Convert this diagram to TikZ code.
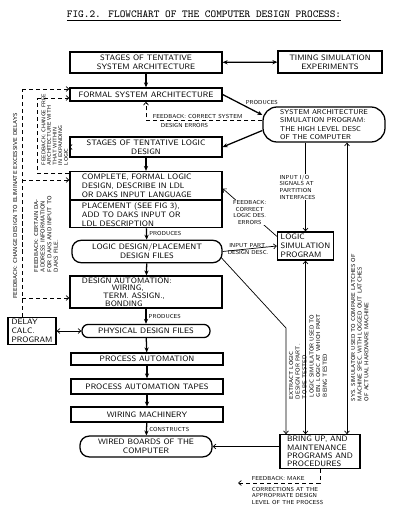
\documentclass[tikz,border=0pt]{standalone}
\usepackage{tikz}
\usetikzlibrary{arrows.meta,positioning,calc}
\newcommand{\handfont}{\fontsize{5.6}{6.4}\selectfont\sffamily}
\newcommand{\notefont}{\fontsize{4.1}{4.7}\selectfont\sffamily}
\tikzset{
  flowbox/.style={draw,line width=0.9pt,align=center,font=\handfont,inner sep=1pt,minimum width=#1},
  flowbox/.default=3.8cm,
  roundbox/.style={flowbox=#1,rounded corners=6.5pt},
  roundbox/.default=3.2cm,
  arr/.style={-{Stealth[length=3.5pt,width=3pt]},line width=0.9pt},
  darr/.style={{Stealth[length=3.5pt,width=3pt]}-{Stealth[length=3.5pt,width=3pt]},line width=0.9pt},
  tarr/.style={-{Straight Barb[length=2pt,width=3.5pt]},line width=0.5pt},
  tdarr/.style={{Straight Barb[length=2pt,width=3.5pt]}-{Straight Barb[length=2pt,width=3.5pt]},line width=0.5pt},
  fbline/.style={line width=0.5pt,dash pattern=on 3pt off 2pt},
  fb/.style={tarr,fbline},
  note/.style={font=\notefont,align=left,inner sep=0.5pt},
  vnote/.style={note,rotate=90,anchor=north west},
}

\begin{document}
\begin{tikzpicture}[x=0.025cm,y=-0.025cm]
  \useasboundingbox (0,0) rectangle (400,515);
  \node[font=\fontsize{7.6}{8}\selectfont\ttfamily] (title) at (204,16) {\underline{FIG.2. FLOWCHART OF THE COMPUTER DESIGN PROCESS:}};
  % main column
  \node[flowbox,minimum height=0.52cm] (stagesys) at (146,62.5) {STAGES OF TENTATIVE\\SYSTEM ARCHITECTURE};
  \node[flowbox=2.6cm,minimum height=0.55cm] (timing) at (330,62) {TIMING SIMULATION\\EXPERIMENTS};
  \node[flowbox,minimum height=0.33cm] (formal) at (146,94.5) {FORMAL SYSTEM ARCHITECTURE};
  \node[roundbox=3.05cm,minimum height=0.875cm,rounded corners=10pt,align=left,font=\fontsize{5.0}{5.9}\selectfont\sffamily] (sysarch) at (324,124.5)
    {SYSTEM ARCHITECTURE\\SIMULATION PROGRAM:\\THE HIGH LEVEL DESC\\OF THE COMPUTER};
  \node[flowbox,minimum height=0.5cm] (stagelog) at (146,147) {STAGES OF TENTATIVE LOGIC\\DESIGN};
  \node[flowbox,minimum height=0.7cm,text width=3.2cm,inner xsep=0.3cm,align=left] (complete) at (146,185.5)
    {COMPLETE, FORMAL LOGIC\\DESIGN, DESCRIBE IN LDL\\OR DAKS INPUT LANGUAGE};
  \node[flowbox,minimum height=0.65cm,text width=3.2cm,inner xsep=0.3cm,align=left,anchor=north] (placement) at (complete.south)
    {PLACEMENT (SEE FIG 3),\\ADD TO DAKS INPUT OR\\LDL DESCRIPTION};
  \node[roundbox=3.75cm,minimum height=0.56cm] (ldfiles) at (147,251.5) {LOGIC DESIGN/PLACEMENT\\DESIGN FILES};
  \node[flowbox,minimum height=0.8cm,text width=3.2cm,inner xsep=0.3cm,align=left,font=\fontsize{5.6}{5.4}\selectfont\sffamily] (desaut) at (146,292)
    {DESIGN AUTOMATION:\\\hspace*{0.75cm}WIRING,\\\hspace*{0.53cm}TERM. ASSIGN.,\\\hspace*{0.58cm}BONDING};
  \node[roundbox=3.2cm,minimum height=0.33cm,rounded corners=4.5pt] (physfiles) at (146,331) {PHYSICAL DESIGN FILES};
  \node[flowbox=1.2cm,minimum height=0.67cm,align=left] (delay) at (32,331) {DELAY\\CALC.\\PROGRAM};
  \node[flowbox,minimum height=0.3cm] (procaut) at (147,359) {PROCESS AUTOMATION};
  \node[flowbox,minimum height=0.38cm] (tapes) at (147,386.5) {PROCESS AUTOMATION TAPES};
  \node[flowbox,minimum height=0.37cm] (wiremach) at (147,414.5) {WIRING MACHINERY};
  \node[roundbox=3.3cm,minimum height=0.52cm] (boards) at (146,446.5) {WIRED BOARDS OF THE\\COMPUTER};
  \node[flowbox=2.0cm,minimum height=0.83cm,align=left,font=\fontsize{5.6}{5.9}\selectfont\sffamily] (bringup) at (320,451.5)
    {BRING UP, AND\\MAINTENANCE\\PROGRAMS AND\\PROCEDURES};
  \node[flowbox=1.4cm,minimum height=0.7cm,align=left] (logsim) at (305.5,246) {LOGIC\\SIMULATION\\PROGRAM};
  % main flow
  \draw[darr] (stagesys) -- (timing);
  \draw[arr] (stagesys) -- (formal);
  \draw[arr] (formal.east) -- node[note,pos=0.55,above right=0pt] {PRODUCES} ($(sysarch.west)+(0,-9.5)$);
  \draw[arr] ($(sysarch.west)+(0,6)$) -- (stagelog.east);
  \draw[arr] (stagelog) -- (complete);
  \draw[arr] (placement) -- node[note,right=1pt] {PRODUCES} (ldfiles);
  \draw[arr] (ldfiles) -- (desaut);
  \draw[arr] (desaut) -- node[note,right=1pt] {PRODUCES} (physfiles);
  \draw[tdarr] (delay) -- (physfiles);
  \draw[arr] (physfiles) -- (procaut);
  \draw[arr] (procaut) -- (tapes);
  \draw[arr] (tapes) -- (wiremach);
  \draw[arr] (wiremach) -- node[note,right=1pt] {CONSTRUCTS} (boards);
  \draw[tarr] (bringup.west |- boards.east) -- (boards.east);
  % system design feedback
  \draw[fb] ($(sysarch.west)+(0,-4)$) -| (formal.south);
  \node[note,anchor=south west] (fbsys) at (152,119.5) {FEEDBACK: CORRECT SYSTEM};
  \node[note,anchor=north west] (fbsys2) at (160,122) {DESIGN ERRORS};
  % simulators
  \draw[tarr] (sysarch.south -| logsim.north) -- node[note,fill=white,xshift=-0.2cm] {INPUT I/O\\SIGNALS AT\\PARTITION\\INTERFACES} (logsim.north);
  \draw[tarr] ($(logsim.north west)+(0,5)$) -- node[note,fill=white,align=center] {FEEDBACK:\\CORRECT\\LOGIC DES.\\ERRORS} ($(complete.east)+(0,3)$);
  \draw[tarr] (ldfiles.east) -- node[note,above,pos=0.47] {INPUT PART.} node[note,below,pos=0.47] {DESIGN DESC.} (logsim.west);
  \coordinate (bend) at (286,328);
  \draw[tarr] ($(ldfiles.east)+(-1.5,6)$) -- (bend) -- (bend |- bringup.north);
  \node[vnote] (extract) at (288,400) {EXTRACT LOGIC\\DESIGN FOR PART.\\TO BE TESTED};
  \draw[tdarr] (logsim.south) -- (logsim.south |- bringup.north);
  \node[vnote] (gentest) at (308.5,398) {LOGIC SIMULATOR USED TO\\GEN. LOGIC AT WHICH PART\\BEING TESTED};
  \coordinate (systap) at ($(sysarch.south)+(23,0)$);
  \draw[tdarr] (systap) -- (systap |- bringup.north);
  \node[vnote] (latches) at (350,402) {SYS. SIMULATOR USED TO COMPARE LATCHES OF\\MACHINE SPEC. WITH LOGGED OUT LATCHES\\OF ACTUAL HARDWARE MACHINE};
  % bring-up feedback
  \coordinate (fbend) at (238,483);
  \draw[fb] (bringup.south) |- (fbend);
  \node[note,anchor=south west] (fbmake) at (251,482) {FEEDBACK: MAKE};
  \node[note,anchor=north west] (fbmake2) at (251,486) {CORRECTIONS AT THE\\APPROPRIATE DESIGN\\LEVEL OF THE PROCESS};
  % delay feedback, left
  \coordinate (outtop) at (22,89);
  \coordinate (outD) at (22,180);
  \coordinate (outF) at (22,298);
  \draw[fbline] (delay.north -| outtop) -- (outtop);
  \draw[fb] (outtop) -- (outtop -| formal.west);
  \draw[fb] (outD) -- (outD -| complete.west);
  \draw[fb] (outF) -- (outF -| desaut.west);
  \node[note,rotate=90] (fbdelay) at (15,206) {FEEDBACK: CHANGE DESIGN TO ELIMINATE EXCESSIVE DELAYS};
  % logic feedback, left
  \node[vnote,font=\fontsize{3.8}{4.0}\selectfont\sffamily] (fblogic) at (40.5,166) {FEEDBACK: CHANGE FREE\\ARCHITECTURE WITH\\THAT WITHIN\\IN EXPANDING\\LOGIC};
  \coordinate (intop) at (37,98);
  \coordinate (inD) at (37,173);
  \draw[fbline] (inD -| complete.west) -- (inD) -- (intop);
  \draw[fb] (intop) -- (intop -| formal.west);
  \draw[fb] (stagelog.west) -- (stagelog.west -| fblogic.south);
  \node[vnote] (fbdaks) at (33,273) {FEEDBACK: CERTAIN DA-\\ADDRESS INFORMATION\\FOR DAKS AND INPUT TO\\DAKS FILE.};
\end{tikzpicture}
\end{document}
